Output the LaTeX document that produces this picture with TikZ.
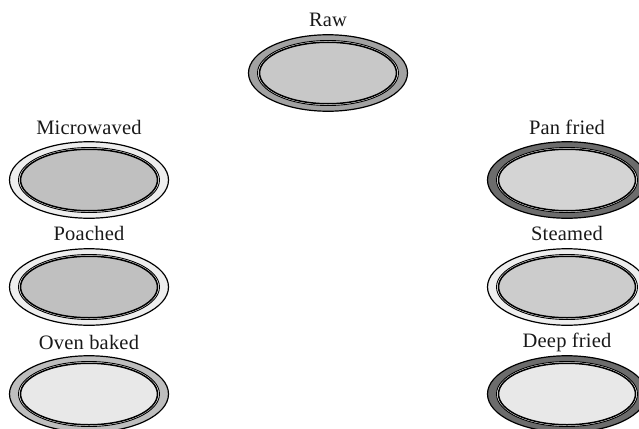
\documentclass[tikz,border=0pt]{standalone}
\usepackage{fontspec}
\setmainfont{Liberation Serif}[LetterSpace=1]
\usetikzlibrary{shapes.geometric}
\tikzset{
  platetext/.style={font=\fontsize{20.5}{24}\selectfont,text=black!90,inner sep=0pt,anchor=center},
  rim/.style={ellipse,draw=black,line width=1.2pt,inner sep=0pt,minimum width=159pt,minimum height=76.5pt},
  gap/.style={ellipse,draw=black,line width=0.9pt,fill=white,inner sep=0pt,minimum width=141pt,minimum height=65pt},
  well/.style={ellipse,draw=black,line width=1.5pt,inner sep=0pt,minimum width=137pt,minimum height=61.5pt}
}
\newcommand{\plate}[7]{%
  \node[rim,fill=#5] (#1rim) at (#2,#3) {};
  \node[gap] (#1gap) at (#2,#3) {};
  \node[well,fill=#6] (#1well) at (#2,#3) {};
  \node[platetext] (#1label) at (#2,#4) {#7};
}
\definecolor{rawrim}{HTML}{A2A2A2}
\definecolor{rawfill}{HTML}{C8C8C8}
\definecolor{palerim}{HTML}{EEEEEE}
\definecolor{midfill}{HTML}{C0C0C0}
\definecolor{midrim}{HTML}{BEBEBE}
\definecolor{lightfill}{HTML}{E8E8E8}
\definecolor{darkrim}{HTML}{6C6C6C}
\definecolor{panfill}{HTML}{D4D4D4}
\definecolor{steamfill}{HTML}{CCCCCC}
\begin{document}
\begin{tikzpicture}[x=1pt,y=-1pt]
\useasboundingbox (0,0) rectangle (639,428);
\clip (0,0) rectangle (639,428);
\plate{raw}{328}{73}{20}{rawrim}{rawfill}{Raw}
\plate{micro}{89}{180}{127}{palerim}{midfill}{Microwaved}
\plate{poach}{89}{287}{233}{palerim}{midfill}{Poached}
\plate{oven}{89}{394}{342}{midrim}{lightfill}{Oven baked}
\plate{pan}{567}{180}{127}{darkrim}{panfill}{Pan fried}
\plate{steam}{567}{287}{233}{palerim}{steamfill}{Steamed}
\plate{deep}{567}{394}{342}{darkrim}{lightfill}{Deep fried}
\end{tikzpicture}
\end{document}
